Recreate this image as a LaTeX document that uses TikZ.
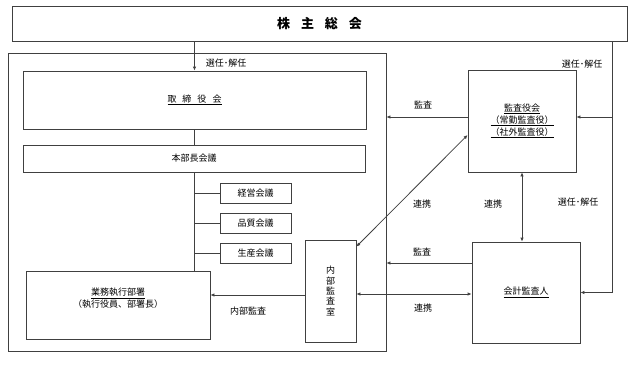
\documentclass[tikz,border=0pt]{standalone}
\usepackage{fontspec}
\setmainfont{Noto Sans CJK JP}
\usetikzlibrary{arrows.meta}

\begin{document}
\begin{tikzpicture}[
    x=1pt, y=-1pt,
    font=\fontsize{9}{12}\selectfont,
    box/.style={draw=black!75,line width=0.8pt,align=center,inner sep=0pt},
    smallbox/.style={box,minimum width=71pt,minimum height=20pt},
    conn/.style={line width=0.8pt,black!75},
    arrow/.style={conn,-{Latex[length=4pt,width=3.5pt]}},
    dblarrow/.style={conn,{Latex[length=4pt,width=3.5pt]}-{Latex[length=4pt,width=3.5pt]}}
  ]
    \useasboundingbox (0,0) rectangle (638,367);

    % boxes
    \node[box,minimum width=615pt,minimum height=35pt] (gm) at (319.5,23.5)
      {\fontsize{13}{14}\selectfont\bfseries 株\hspace{11pt}主\hspace{11pt}総\hspace{11pt}会};
    \node[box,minimum width=378pt,minimum height=298pt] (company) at (197,202) {};
    \node[box,minimum width=343pt,minimum height=58pt] (board) at (194.5,100)
      {\underline{取\hspace{6pt}締\hspace{6pt}役\hspace{6pt}会}};
    \node[box,minimum width=342pt,minimum height=27pt] (hq) at (194,158.5) {本部長会議};
    \node[smallbox] (keiei) at (255.5,193) {経営会議};
    \node[smallbox] (hinshitsu) at (255.5,223) {品質会議};
    \node[smallbox] (seisan) at (255.5,253) {生産会議};
    \node[box,minimum width=184pt,minimum height=68pt] (ops) at (118,305) {};
    \node[align=center,font=\fontsize{9}{10.5}\selectfont] (opstext) at ([yshift=7pt]ops.center)
      {\underline{業務執行部署}\\（執行役員、部署長）};
    \node[box,minimum width=51pt,minimum height=102pt,font=\fontsize{9}{10.3}\selectfont] (naibu) at (330.5,291)
      {内\\部\\監\\査\\室};
    \node[box,minimum width=108pt,minimum height=102pt] (kansayaku) at (522,121)
      {\underline{監査役会}\\\underline{（常勤監査役）}\\\underline{（社外監査役）}};
    \node[box,minimum width=108pt,minimum height=101pt] (kaikei) at (526,292.5) {\underline{会計監査人}};
    \coordinate (selR) at (612,0);

    % connectors
    \draw[arrow] (gm.south -| board.north) -- (board.north);
    \draw[conn] (board.south) -- (board.south |- hq.north);
    \draw[conn] (board.south |- hq.south) -- (board.south |- ops.north);
    \foreach \m in {keiei,hinshitsu,seisan}
      \draw[conn] (board.south |- \m.west) -- (\m.west);
    \draw[arrow] ([yshift=4pt]kansayaku.west) -- ([yshift=4pt]kansayaku.west -| company.east);
    \draw[arrow] (selR |- gm.south) |- (kaikei.east);
    \draw[arrow] ([yshift=4pt]kansayaku.east -| selR) -- ([yshift=4pt]kansayaku.east);
    \draw[dblarrow] (kansayaku.south) -- (kansayaku.south |- kaikei.north);
    \draw[dblarrow] ([yshift=-14pt]kansayaku.west) -- ([yshift=-7pt]naibu.north east);
    \draw[arrow] ([yshift=29.5pt]kaikei.west) -- ([yshift=29.5pt]kaikei.west -| company.east);
    \draw[dblarrow] ([yshift=-3pt]naibu.east) -- ([yshift=-3pt]naibu.east -| kaikei.west);
    \draw[arrow] ([yshift=-4pt]naibu.west) -- ([yshift=-4pt]naibu.west -| ops.east);

    % labels
    \node (selA) at (226,63) {選任･解任};
    \node (kansaA) at (423,105) {監査};
    \node (selB) at (582,64) {選任･解任};
    \node (renkeiA) at (422,204) {連携};
    \node (renkeiB) at (493,204) {連携};
    \node (selC) at (578,202) {選任･解任};
    \node (kansaB) at (422,252) {監査};
    \node (renkeiC) at (423,308) {連携};
    \node (naibuA) at (248,311) {内部監査};
  \end{tikzpicture}
\end{document}
